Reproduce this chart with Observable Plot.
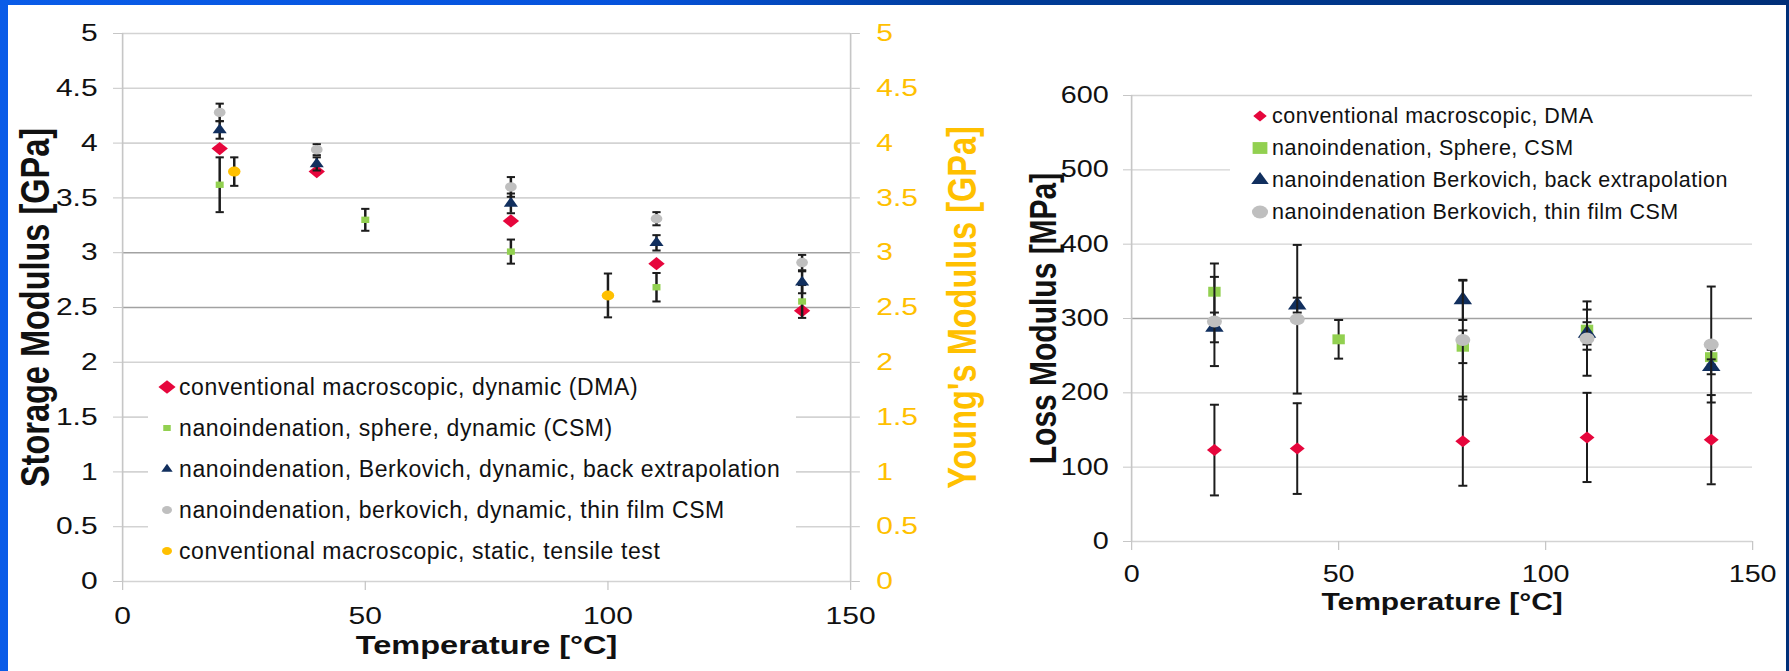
<!DOCTYPE html>
<html><head><meta charset="utf-8">
<script src="https://cdn.jsdelivr.net/npm/d3@7"></script>
<script src="https://cdn.jsdelivr.net/npm/@observablehq/plot@0.6"></script>
<style>
html,body{margin:0;padding:0;}
body{width:1789px;height:671px;overflow:hidden;position:relative;
  background:linear-gradient(to right,#0a5ce8 0%,#0653dc 35%,#003c98 55%,#002f78 100%);
  font-family:"Liberation Sans",Arial,sans-serif;}
#panel{position:absolute;left:8px;top:5px;width:1778px;height:666px;background:#fff;}
.chart{position:absolute;top:0;}
.legend{position:absolute;background:#fff;color:#111;}
.legend .lbl{position:absolute;white-space:nowrap;}
.legend svg{position:absolute;overflow:visible;}
</style></head>
<body>
<div id="panel"></div>
<div id="left" class="chart" style="left:0px"></div>
<div id="right" class="chart" style="left:1000px"></div>
<script>
// ---------- data ----------
const xTicks = [0, 50, 100, 150];
const xDomain = [0, 150];
const storageTicks = [0, 0.5, 1, 1.5, 2, 2.5, 3, 3.5, 4, 4.5, 5];
const storageDarkGrid = [2.5, 3];
const lossTicks = [0, 100, 200, 300, 400, 500, 600];
const lossDarkGrid = [300];

// Storage modulus [GPa] (left chart)
const dmaTemp = [20, 40, 80, 110, 140];
const dmaStorage = [3.95, 3.74, 3.29, 2.90, 2.47];
const sphereTemp = [20, 50, 80, 110, 140];
const sphereStorage = [3.62, 3.30, 3.01, 2.685, 2.555];
const sphereStorageErr = [0.25, 0.10, 0.11, 0.13, 0.15];
const berkTemp = [20, 40, 80, 110, 140];
const berkStorage = [4.12, 3.81, 3.45, 3.09, 2.73];
const berkStorageErr = [0.08, 0.06, 0.09, 0.07, 0.10];
const thinTemp = [20, 40, 80, 110, 140];
const thinStorage = [4.28, 3.94, 3.60, 3.31, 2.91];
const thinStorageErr = [0.08, 0.05, 0.09, 0.06, 0.07];
const tensileTemp = [23, 100];
const tensileYoung = [3.74, 2.61];
const tensileYoungErr = [0.13, 0.20];

// Loss modulus [MPa] (right chart)
const dmaLoss = [123, 125, 135, 140, 137];
const dmaLossErr = [61, 61, 60, 60, 60];
const sphereLoss = [336, 272, 262, 285, 248];
const sphereLossErr = [38, 26, 22, 27, 10];
const berkLoss = [288, 318, 325, 280, 235];
const berkLossErr = [20, 10, 27, 15, 10];
const thinLoss = [296, 299, 271, 273, 265];
const thinLossErr = [60, 100, 80, 50, 78];

const leftLegendLabels = [
  "conventional macroscopic, dynamic (DMA)",
  "nanoindenation, sphere, dynamic (CSM)",
  "nanoindenation, Berkovich, dynamic, back extrapolation",
  "nanoindenation, berkovich, dynamic, thin film CSM",
  "conventional macroscopic, static, tensile test"
];
const rightLegendLabels = [
  "conventional macroscopic, DMA",
  "nanoindenation, Sphere, CSM",
  "nanoindenation Berkovich, back extrapolation",
  "nanoindenation Berkovich, thin film CSM"
];

// ---------- style ----------
const RED = "#E6063C", GREEN = "#92D050", NAVY = "#112F5E", GRAY = "#BFBFBF", YELLOW = "#FFC000";
const GRID = "#d3d3d3", GRID_DARK = "#a2a2a2", AXIS = "#c6c6c6", ERR = "#1c1c1c";
const FONT = "'Liberation Sans', Arial, sans-serif";
const S = 1.25; // horizontal stretch of the original slide

const cap = {draw(ctx, size) { const w = Math.sqrt(size / Math.PI); ctx.moveTo(-w, 0); ctx.lineTo(w, 0); }};
const fmt = d => String(d);

function rows(temps, vals, errs) {
  return temps.map((t, i) => ({t, v: vals[i], e: errs ? errs[i] : 0}));
}
function errorBars(data, capR, sw) {
  const r = data.filter(d => d.e > 0);
  return [
    Plot.ruleX(r, {x: "t", y1: d => d.v - d.e, y2: d => d.v + d.e, stroke: ERR, strokeWidth: sw}),
    Plot.dot(r, {x: "t", y: d => d.v + d.e, symbol: cap, r: capR, stroke: ERR, strokeWidth: 2, fill: "none"}),
    Plot.dot(r, {x: "t", y: d => d.v - d.e, symbol: cap, r: capR, stroke: ERR, strokeWidth: 2, fill: "none"})
  ];
}
function pts(data, symbol, color, r) {
  return Plot.dot(data, {x: "t", y: "v", symbol, r, fill: color, stroke: "none"});
}
function title(str, o) {
  return Plot.text([str], {text: d => d, textAnchor: "middle", lineAnchor: "middle", fontWeight: "bold", ...o});
}

function makeChart(opts) {
  const svg = Plot.plot({
    width: opts.width, height: 671,
    marginLeft: opts.marginLeft, marginRight: opts.marginRight,
    marginTop: opts.marginTop, marginBottom: opts.marginBottom,
    x: {domain: xDomain},
    y: {domain: opts.yDomain},
    style: {fontFamily: FONT, fontSize: opts.fontSize + "px", background: "transparent", color: "#111", overflow: "visible"},
    marks: opts.marks
  });
  svg.setAttribute("preserveAspectRatio", "none");
  svg.setAttribute("width", opts.width * S);
  svg.style.width = (opts.width * S) + "px";
  svg.style.height = "671px";
  svg.style.maxWidth = "none";
  return svg;
}

// ---------- left chart: storage modulus ----------
const lDMA = rows(dmaTemp, dmaStorage);
const lSph = rows(sphereTemp, sphereStorage, sphereStorageErr);
const lBerk = rows(berkTemp, berkStorage, berkStorageErr);
const lThin = rows(thinTemp, thinStorage, thinStorageErr);
const lTen = rows(tensileTemp, tensileYoung, tensileYoungErr);

const left = makeChart({
  width: 800, marginLeft: 97.6, marginRight: 120, marginTop: 33, marginBottom: 90,
  yDomain: [0, 5], fontSize: 24,
  marks: [
    Plot.ruleY(storageTicks.filter(d => !storageDarkGrid.includes(d)), {stroke: GRID, strokeWidth: 1.6}),
    Plot.ruleY(storageDarkGrid, {stroke: GRID_DARK, strokeWidth: 1.6}),
    Plot.ruleX(xDomain, {stroke: AXIS, strokeWidth: 1.3}),
    Plot.axisY(storageTicks, {anchor: "left", tickSize: 7.2, tickPadding: 12.8, stroke: AXIS, fill: "#111", tickFormat: fmt, label: null}),
    Plot.axisY(storageTicks, {anchor: "right", tickSize: 6.9, tickPadding: 13.6, stroke: AXIS, fill: YELLOW, tickFormat: fmt, label: null}),
    Plot.axisX(xTicks, {anchor: "bottom", tickSize: 9, tickPadding: 16, stroke: AXIS, fill: "#111", tickFormat: fmt, label: null}),
    pts(lDMA, "diamond2", RED, 5.9),
    ...errorBars(lSph, 3.3, 2), pts(lSph, "square", GREEN, 3.6),
    ...errorBars(lBerk, 3.3, 2), pts(lBerk, "triangle", NAVY, 4.2),
    ...errorBars(lThin, 3.3, 2), pts(lThin, "circle", GRAY, 4.7),
    ...errorBars(lTen, 3.3, 2), pts(lTen, "circle", YELLOW, 5),
    title("Storage Modulus [GPa]", {frameAnchor: "left", dx: -69, rotate: -90, fontSize: 32.5, fill: "#111"}),
    title("Young's Modulus [GPa]", {frameAnchor: "right", dx: 89.6, rotate: -90, fontSize: 32.5, fill: YELLOW}),
    title("Temperature [°C]", {frameAnchor: "bottom", dy: 64, fontSize: 26, fill: "#111"})
  ]
});
document.getElementById("left").appendChild(left);

// ---------- right chart: loss modulus ----------
const rDMA = rows(dmaTemp, dmaLoss, dmaLossErr);
const rSph = rows(sphereTemp, sphereLoss, sphereLossErr);
const rBerk = rows(berkTemp, berkLoss, berkLossErr);
const rThin = rows(thinTemp, thinLoss, thinLossErr);

const right = makeChart({
  width: 632, marginLeft: 104.8, marginRight: 30.4, marginTop: 95, marginBottom: 130,
  yDomain: [0, 600], fontSize: 23,
  marks: [
    Plot.ruleY(lossTicks.filter(d => !lossDarkGrid.includes(d)), {stroke: GRID, strokeWidth: 1.4}),
    Plot.ruleY(lossDarkGrid, {stroke: GRID_DARK, strokeWidth: 1.4}),
    Plot.ruleX([xDomain[0]], {stroke: AXIS, strokeWidth: 1.3}),
    Plot.axisY(lossTicks, {anchor: "left", tickSize: 6.4, tickPadding: 12, stroke: AXIS, fill: "#111", tickFormat: fmt, label: null}),
    Plot.axisX(xTicks, {anchor: "bottom", tickSize: 9, tickPadding: 15, stroke: AXIS, fill: "#111", tickFormat: fmt, label: null}),
    ...errorBars(rDMA, 3.6, 1.6), pts(rDMA, "diamond2", RED, 5.4),
    ...errorBars(rSph, 3.6, 1.6), pts(rSph, "square", GREEN, 5.6),
    ...errorBars(rBerk, 3.6, 1.6), pts(rBerk, "triangle", NAVY, 5.5),
    ...errorBars(rThin, 3.6, 1.6), pts(rThin, "circle", GRAY, 6),
    title("Loss Modulus [MPa]", {frameAnchor: "left", dx: -70.4, rotate: -90, fontSize: 30, fill: "#111"}),
    title("Temperature [°C]", {frameAnchor: "bottom", dy: 61, fontSize: 24, fill: "#111"})
  ]
});
document.getElementById("right").appendChild(right);

// ---------- legends (HTML overlays) ----------
function legend(box, items, o) {
  const div = document.createElement("div");
  div.className = "legend";
  Object.assign(div.style, {left: box.left + "px", top: box.top + "px", width: box.width + "px", height: box.height + "px"});
  items.forEach((it, i) => {
    const cy = o.rowY[i] - box.top;
    const svg = d3.create("svg").attr("width", 20).attr("height", 20)
      .style("left", (o.markerX - box.left - 10) + "px").style("top", (cy - 10) + "px");
    svg.append("path").attr("d", d3.symbol(it.symbol, it.size)())
      .attr("transform", `translate(10,10) scale(${S},1)`).attr("fill", it.color);
    div.appendChild(svg.node());
    const lbl = document.createElement("div");
    lbl.className = "lbl";
    lbl.textContent = it.label;
    Object.assign(lbl.style, {left: (o.textX - box.left) + "px", top: (cy - 15) + "px", lineHeight: "30px",
      fontSize: o.fontSize + "px", letterSpacing: o.letterSpacing + "px"});
    div.appendChild(lbl);
  });
  document.body.appendChild(div);
}

legend({left: 148, top: 370, width: 648, height: 202}, [
  {label: leftLegendLabels[0], color: RED, symbol: d3.symbolDiamond2, size: 120},
  {label: leftLegendLabels[1], color: GREEN, symbol: d3.symbolSquare, size: 36},
  {label: leftLegendLabels[2], color: NAVY, symbol: d3.symbolTriangle, size: 36},
  {label: leftLegendLabels[3], color: GRAY, symbol: d3.symbolCircle, size: 50},
  {label: leftLegendLabels[4], color: YELLOW, symbol: d3.symbolCircle, size: 50}
], {rowY: [387, 428, 469, 510, 551], markerX: 167, textX: 179, fontSize: 23, letterSpacing: 0.6});

legend({left: 1230, top: 102, width: 530, height: 130}, [
  {label: rightLegendLabels[0], color: RED, symbol: d3.symbolDiamond2, size: 75},
  {label: rightLegendLabels[1], color: GREEN, symbol: d3.symbolSquare, size: 140},
  {label: rightLegendLabels[2], color: NAVY, symbol: d3.symbolTriangle, size: 85},
  {label: rightLegendLabels[3], color: GRAY, symbol: d3.symbolCircle, size: 130}
], {rowY: [116, 148, 180, 212], markerX: 1260, textX: 1272, fontSize: 21.5, letterSpacing: 0.5});
</script>
</body></html>
